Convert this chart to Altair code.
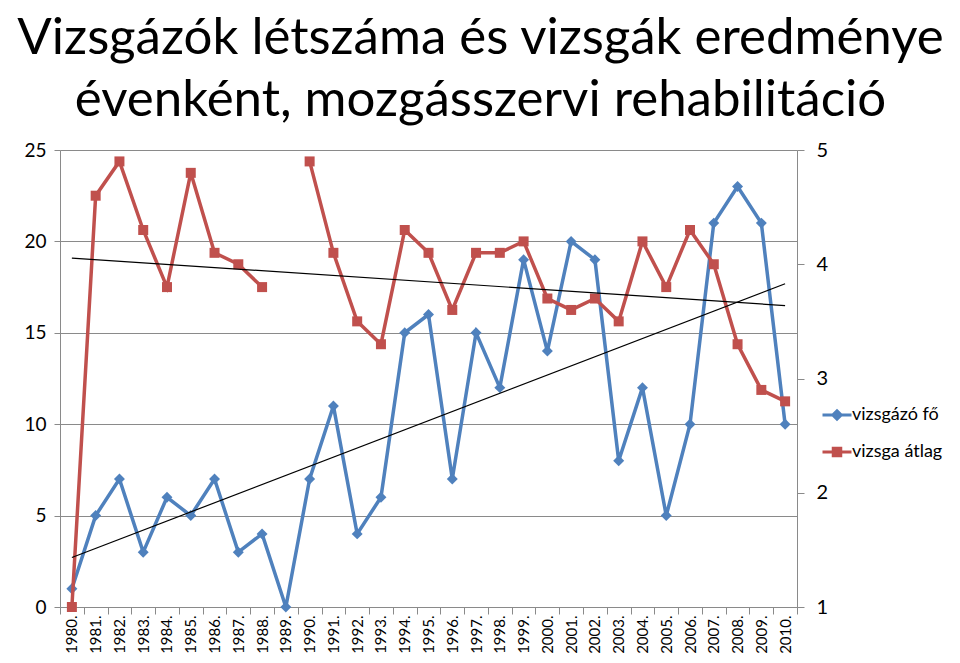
import altair as alt
import pandas as pd

years = [1980, 1981, 1982, 1983, 1984, 1985, 1986, 1987, 1988, 1989,
         1990, 1991, 1992, 1993, 1994, 1995, 1996, 1997, 1998, 1999,
         2000, 2001, 2002, 2003, 2004, 2005, 2006, 2007, 2008, 2009, 2010]
labels = [f"{y}." for y in years]
vizsgazo_fo = [1, 5, 7, 3, 6, 5, 7, 3, 4, 0,
               7, 11, 4, 6, 15, 16, 7, 15, 12, 19,
               14, 20, 19, 8, 12, 5, 10, 21, 23, 21, 10]
vizsga_atlag = [1.0, 4.6, 4.9, 4.3, 3.8, 4.8, 4.1, 4.0, 3.8, None,
                4.9, 4.1, 3.5, 3.3, 4.3, 4.1, 3.6, 4.1, 4.1, 4.2,
                3.7, 3.6, 3.7, 3.5, 4.2, 3.8, 4.3, 4.0, 3.3, 2.9, 2.8]
series_names = ["vizsgázó fő", "vizsga átlag"]
colors = ["#4F81BD", "#C0504D"]
left_ticks = [0, 5, 10, 15, 20, 25]
right_ticks = [1, 2, 3, 4, 5]
title_lines = ["Vizsgázók létszáma és vizsgák eredménye",
               "évenként, mozgásszervi rehabilitáció"]

FONT = "Lato"
GRAY = "#8a8a8a"

df = pd.DataFrame({"year": years, "label": labels,
                   "fo": vizsgazo_fo, "atlag": vizsga_atlag})

x_enc = alt.X(
    "label:N", title=None, sort=labels, bandPosition=0.5,
    scale=alt.Scale(type="band", domain=labels, paddingInner=0, paddingOuter=0),
    axis=alt.Axis(labelAngle=-90, tickBand="extent", labelFontSize=15,
                  labelFont=FONT, labelColor="black", labelPadding=1,
                  tickSize=7, tickColor=GRAY, domainColor=GRAY, grid=False),
)

left_scale = alt.Scale(domain=[0, 25], nice=False, zero=False)
right_scale = alt.Scale(domain=[1, 5], nice=False, zero=False)

y_left_axis = alt.Y("fo:Q", title=None, scale=left_scale,
                    axis=alt.Axis(values=left_ticks, grid=True, gridColor=GRAY,
                                  gridWidth=1, tickSize=6, tickColor=GRAY,
                                  domainColor=GRAY, labelFontSize=19,
                                  labelFont=FONT, labelColor="black",
                                  labelPadding=8))
y_left = alt.Y("fo:Q", title=None, scale=left_scale, axis=None)
y_right_axis = alt.Y("atlag:Q", title=None, scale=right_scale,
                     axis=alt.Axis(orient="right", values=right_ticks, grid=False,
                                   tickSize=7, tickColor=GRAY, domainColor=GRAY,
                                   labelFontSize=20, labelFont=FONT,
                                   labelColor="black", labelPadding=12))
y_right = alt.Y("atlag:Q", title=None, scale=right_scale, axis=None)

base = alt.Chart(df)

blue_line = base.mark_line(color=colors[0], strokeWidth=3.5).encode(x=x_enc, y=y_left_axis)
blue_pts = base.mark_point(shape="diamond", filled=True, size=120, opacity=1,
                           color=colors[0]).encode(x=x_enc, y=y_left)
red_line = base.mark_line(color=colors[1], strokeWidth=3.5).encode(x=x_enc, y=y_right_axis)
red_pts = base.mark_point(shape="square", filled=True, size=100, opacity=1,
                          color=colors[1]).transform_filter(
    "isValid(datum.atlag)").encode(x=x_enc, y=y_right)

blue_trend = base.transform_regression("year", "fo", method="linear").transform_calculate(
    label="datum.year + '.'").mark_line(color="black", strokeWidth=1.2).encode(x=x_enc, y=y_left)
red_trend = base.transform_filter("isValid(datum.atlag)").transform_regression(
    "year", "atlag", method="linear").transform_calculate(
    label="datum.year + '.'").mark_line(color="black", strokeWidth=1.2).encode(x=x_enc, y=y_right)

diamond_path = "M-2.9,0H2.9M0,-0.85L0.85,0L0,0.85L-0.85,0Z"
square_path = "M-2.9,0H2.9M-0.75,-0.75H0.75V0.75H-0.75Z"
legend = alt.Legend(title=None, orient="none", legendX=768, legendY=256,
                    symbolSize=100, symbolStrokeWidth=3, labelFontSize=18,
                    labelFont=FONT, labelColor="black", labelOffset=6,
                    rowPadding=16, padding=0, symbolOpacity=1)
leg_df = pd.DataFrame({"series": series_names})
legend_layer = alt.Chart(leg_df).mark_point(filled=True, opacity=0).encode(
    shape=alt.Shape("series:N", sort=series_names,
                    scale=alt.Scale(domain=series_names, range=[diamond_path, square_path]),
                    legend=legend),
    fill=alt.Fill("series:N", sort=series_names,
                  scale=alt.Scale(domain=series_names, range=colors), legend=legend),
    stroke=alt.Stroke("series:N", sort=series_names,
                      scale=alt.Scale(domain=series_names, range=colors), legend=legend),
)

chart = alt.layer(
    blue_line, blue_pts, red_line, red_pts, blue_trend, red_trend, legend_layer
).resolve_scale(y="independent").properties(
    width=737, height=457,
    padding={"left": 52, "top": 142, "right": 155, "bottom": 48},
    autosize=alt.AutoSizeParams(type="none"),
    title=alt.TitleParams(text=title_lines, fontSize=51, font=FONT,
                          fontWeight="normal", color="black", anchor="middle",
                          dx=52, dy=70, lineHeight=62, baseline="alphabetic", offset=43),
).configure_view(stroke=None).configure(background="white")

chart.save("out.html", embed_options={"renderer": "svg", "actions": False})
